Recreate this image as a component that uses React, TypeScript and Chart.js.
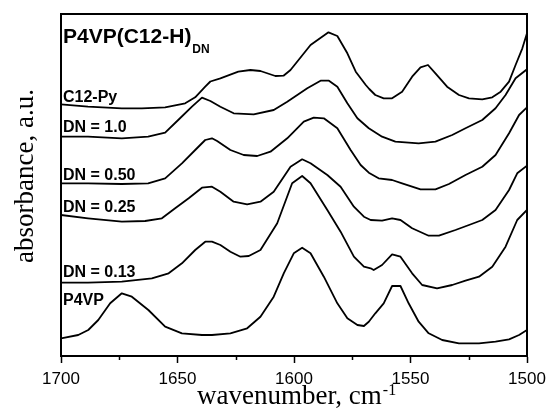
import { useEffect, useRef } from "react";
import { Chart, registerables } from "chart.js";

Chart.register(...registerables);

// wavenumber (cm^-1) and offset absorbance (a.u., stacked) per spectrum
const c12pyX = [1700, 1688.4, 1673.9, 1665.3, 1655.3, 1646.7, 1642.4, 1638.1, 1635.9, 1631.6, 1623.9, 1618.7, 1614.4, 1608, 1604.5, 1601.5, 1592.9, 1585.2, 1581.4, 1577.1, 1573.5, 1569.2, 1567.7, 1565.1, 1561.5, 1557.9, 1553.6, 1549.3, 1545.7, 1542.5, 1539.3, 1534.3, 1529.2, 1524.9, 1519.2, 1514.9, 1511.3, 1507.7, 1504.9, 1502, 1500];
const c12pyY = [251.7, 249.3, 247.7, 247.7, 248.7, 252.7, 258.7, 269.3, 274.5, 277.7, 284.3, 286, 285, 280, 280.3, 286, 311, 323.7, 320, 302.7, 284.3, 271, 267, 261, 257.7, 257.7, 264.3, 279.3, 288.7, 291, 282.7, 269.3, 261, 257.7, 256.7, 258.7, 264.3, 274.3, 291, 307.7, 322.7];

const dn100X = [1700, 1688.4, 1673.9, 1662.6, 1655.3, 1649.7, 1643.8, 1639.5, 1635.9, 1631.6, 1625.9, 1617.3, 1608.7, 1602.9, 1594.3, 1588.6, 1585, 1581.4, 1577.1, 1572.8, 1567.9, 1562.2, 1556.5, 1546.5, 1539.3, 1532.1, 1526.4, 1519.2, 1513.5, 1509.2, 1504.9, 1500];
const dn100Y = [219.3, 219.3, 217.7, 219.3, 223.3, 236, 249.3, 258.3, 255, 249.3, 242.7, 241.7, 246, 254.3, 267.7, 275.3, 275.3, 269.3, 252.7, 237.7, 227.7, 219.3, 214.3, 212.7, 214.3, 221, 227.7, 236, 247.7, 261, 277.7, 286.7];

const dn050X = [1700, 1688.4, 1673.9, 1662.6, 1655.3, 1648.1, 1642.4, 1638.1, 1635.2, 1633, 1627.3, 1621.6, 1615.8, 1610.1, 1602.9, 1595.8, 1591.5, 1587.2, 1581.4, 1575.7, 1571.4, 1567.9, 1563.7, 1557.9, 1553.6, 1545.7, 1539.3, 1533.5, 1526.4, 1519.2, 1513.5, 1507.7, 1503.4, 1500];
const dn050Y = [172.7, 172.7, 172, 172.7, 177.7, 192.7, 206, 216, 217.7, 215, 206, 201, 200, 204.3, 217.7, 234.3, 238.3, 237.7, 227.7, 206, 191, 183.3, 177.7, 176, 172.7, 166.7, 166.7, 172, 181, 189.3, 201, 222.7, 241, 248.7];

const dn025X = [1700, 1688.4, 1673.9, 1663.9, 1656.7, 1651, 1645.2, 1639.5, 1635.2, 1631.6, 1625.9, 1620.1, 1614.4, 1608.7, 1601.5, 1596.5, 1592.9, 1585.7, 1580, 1574.3, 1570, 1567.1, 1562.2, 1557.9, 1554.3, 1549.3, 1542.2, 1537.8, 1530.7, 1524.9, 1519.2, 1513.5, 1507.7, 1504.2, 1500];
const dn025Y = [141, 137.7, 134.3, 135, 137.7, 147.7, 157.7, 168.3, 169.3, 164.3, 154.3, 151.7, 154.3, 164.3, 189.3, 196.7, 192.7, 181, 169.3, 149.3, 139.3, 136, 135.3, 137.7, 136, 127.7, 120.3, 120.3, 126, 131, 136, 146, 166, 182.7, 190.3];

const dn013X = [1700, 1688.4, 1673.9, 1661, 1653.8, 1648.1, 1642.4, 1638.1, 1635.2, 1631.6, 1627.3, 1623, 1619.4, 1614.4, 1607.2, 1600.8, 1596.5, 1592.9, 1585.7, 1580, 1574.3, 1570, 1567.1, 1565.8, 1562.2, 1557.9, 1554.3, 1549.3, 1545, 1538.6, 1532.1, 1526.4, 1520.6, 1514.9, 1509.2, 1504.2, 1500];
const dn013Y = [73.3, 73.3, 74.3, 77.7, 82.7, 92.7, 106, 114.3, 114.3, 111, 104.3, 99.3, 100, 106, 132.7, 172.7, 180, 172.7, 146, 124.3, 99.3, 89.3, 87.7, 86, 91, 101.7, 99.3, 82.7, 71, 67.7, 71, 75.3, 79.3, 89.3, 109.3, 136, 146];

const p4vpX = [1700, 1692.6, 1688.3, 1684, 1678.9, 1673.9, 1669.6, 1662.5, 1655.3, 1648.1, 1639.5, 1635.2, 1627.3, 1620.1, 1614.4, 1608.7, 1604.4, 1600.1, 1596.5, 1592.9, 1587.2, 1581.4, 1577.1, 1572.8, 1570, 1567.9, 1565.1, 1561.5, 1557.9, 1554.3, 1550.8, 1546.5, 1542.2, 1536.4, 1529.2, 1520.6, 1513.5, 1507.7, 1503.4, 1500];
const p4vpY = [17.7, 21, 26, 36, 52.7, 62.7, 59.3, 46, 29.3, 22.7, 21, 21, 22.7, 27.7, 39.3, 59.3, 82.7, 102.7, 108.3, 102.7, 79.3, 52.7, 37.7, 31, 30, 34.3, 42.7, 52.7, 70, 70, 52.7, 34.3, 22.7, 16, 12.7, 12.7, 14.3, 16.7, 21, 26];

const seriesLabels = ["C12-Py", "DN = 1.0", "DN = 0.50", "DN = 0.25", "DN = 0.13", "P4VP"];
const titleMain = "P4VP(C12-H)";
const titleSub = "DN";
const xTitle = "wavenumber, cm";
const xTitleSup = "-1";
const yTitle = "absorbance, a.u.";
const xMin = 1500;
const xMax = 1700;
const yMin = 0;
const yMax = 342;
const minorTicks = [1675, 1625, 1575, 1525];

const seriesX = [c12pyX, dn100X, dn050X, dn025X, dn013X, p4vpX];
const seriesY = [c12pyY, dn100Y, dn050Y, dn025Y, dn013Y, p4vpY];

const labelBaselines = [102, 131.5, 180, 211.5, 276.5, 305];

const SANS = '"Liberation Sans", Arial, sans-serif';
const SERIF = '"Liberation Serif", "Times New Roman", serif';

const overlay = {
  id: "overlay",
  afterDraw(chart: any) {
    const ctx = chart.ctx as CanvasRenderingContext2D;
    const a = chart.chartArea;
    const xs = chart.scales.x;
    ctx.save();
    ctx.strokeStyle = "#000";
    ctx.lineWidth = 2;
    ctx.strokeRect(a.left, a.top, a.right - a.left, a.bottom - a.top);

    // minor ticks
    ctx.lineWidth = 1.5;
    minorTicks.forEach((v) => {
      const px = Math.round(xs.getPixelForValue(v)) + 0.5;
      ctx.beginPath();
      ctx.moveTo(px, a.bottom);
      ctx.lineTo(px, a.bottom + 4);
      ctx.stroke();
    });

    ctx.fillStyle = "#000";
    ctx.textAlign = "left";
    ctx.textBaseline = "alphabetic";
    ctx.font = `bold 21px ${SANS}`;
    ctx.fillText(titleMain, a.left + 2, 43);
    const tw = ctx.measureText(titleMain).width;
    ctx.font = `bold 12px ${SANS}`;
    ctx.fillText(titleSub, a.left + 2 + tw + 1, 53);

    ctx.font = `bold 16px ${SANS}`;
    seriesLabels.forEach((t, i) => {
      ctx.fillText(t, a.left + 2, labelBaselines[i]);
    });

    // x axis title
    ctx.font = `27px ${SERIF}`;
    ctx.fillText(xTitle, 197, 404);
    const xw = ctx.measureText(xTitle).width;
    ctx.font = `16px ${SERIF}`;
    ctx.fillText(xTitleSup, 197 + xw + 1, 395);

    // y axis title
    ctx.translate(33, 176);
    ctx.rotate(-Math.PI / 2);
    ctx.textAlign = "center";
    ctx.font = `27px ${SERIF}`;
    ctx.fillText(yTitle, 0, 0);
    ctx.restore();
  },
};

export default function App() {
  const ref = useRef<HTMLCanvasElement>(null);
  useEffect(() => {
    if (!ref.current) return;
    const chart = new Chart(ref.current, {
      type: "line",
      data: {
        datasets: seriesX.map((xs, i) => ({
          label: seriesLabels[i],
          data: xs.map((x, j) => ({ x, y: seriesY[i][j] })),
          borderColor: "#000",
          borderWidth: 1.8,
          pointRadius: 0,
          tension: 0,
          fill: false,
          borderJoinStyle: "round" as const,
        })),
      },
      options: {
        responsive: false,
        animation: false,
        layout: { padding: { left: 61, right: 21, top: 14, bottom: 0 } },
        plugins: { legend: { display: false }, tooltip: { enabled: false }, title: { display: false } },
        scales: {
          x: {
            type: "linear",
            reverse: true,
            min: xMin,
            max: xMax,
            afterFit: (s: any) => {
              s.height = 57;
              s.paddingLeft = 0;
              s.paddingRight = 0;
            },
            ticks: {
              stepSize: 50,
              autoSkip: false,
              maxRotation: 0,
              padding: 6,
              color: "#000",
              font: { family: SANS, size: 17 },
              callback: (v: any) => String(v),
            },
            grid: { display: true, drawOnChartArea: false, drawTicks: true, tickLength: 7, tickColor: "#000", tickWidth: 1.5 },
            border: { display: true, color: "#000", width: 2 },
          },
          y: { display: false, min: yMin, max: yMax },
        },
      },
      plugins: [overlay],
    });
    return () => chart.destroy();
  }, []);
  return (
    <div style={{ position: "fixed", left: 0, top: 0, width: 548, height: 413, background: "#fff" }}>
      <canvas ref={ref} width={548} height={413} style={{ display: "block", width: 548, height: 413 }} />
    </div>
  );
}
